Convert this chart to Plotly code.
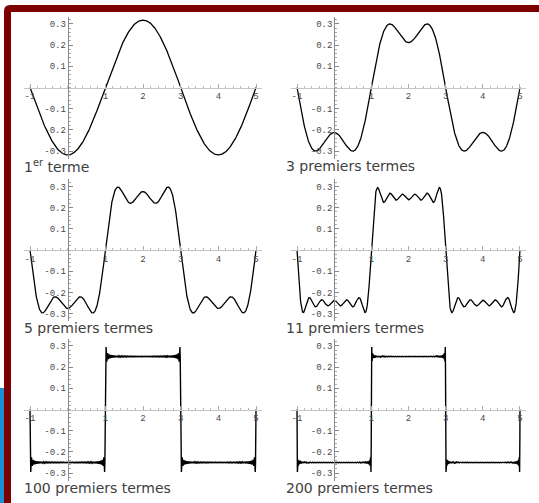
import numpy as np
import plotly.graph_objects as go

# Partial Fourier sums of a square wave (amplitude 0.25, period 4)
harmoniques = [1, 3, 5, 11, 100, 200]          # highest harmonic kept in each panel
legendes = ["1<sup>er</sup> terme", "3 premiers termes", "5 premiers termes",
            "11 premiers termes", "100 premiers termes", "200 premiers termes"]
amplitude = 0.25
periode = 4.0
x_debut, x_fin = -1.0, 5.0

x_ticks = [-1, 1, 2, 3, 4, 5]
x_ticktext = ["-1", "1", "2", "3", "4", "5"]
y_ticks = [-0.3, -0.2, -0.1, 0.1, 0.2, 0.3]
y_ticktext = ["-0.3", "-0.2", "-0.1", "0.1", "0.2", "0.3"]

W, H = 539, 503
X_RANGE = [-1.17, 5.17]
Y_RANGE = [-0.335, 0.335]

# panel boxes in pixels: (left, right, top, bottom)
col_x = [(23.6, 262.4), (290.7, 526.3)]
row_y = [(16.5, 158.5), (179.0, 321.0), (338.5, 480.5)]
caption_y = [166, 328, 488]
caption_x = [22, 284]


def somme_partielle(x, n_max):
    s = np.zeros_like(x)
    for n in range(1, n_max + 1, 2):
        k = (n - 1) // 2
        s += ((-1) ** k) * np.cos(n * 2 * np.pi * x / periode) / n
    return -(4 * amplitude / np.pi) * s


fig = go.Figure()
layout = dict(width=W, height=H, margin=dict(l=0, r=0, t=0, b=0),
              paper_bgcolor="white", plot_bgcolor="rgba(0,0,0,0)",
              showlegend=False, annotations=[], shapes=[])

tick_font = dict(family="Liberation Mono", size=9, color="#4a4a4a")

for i, n_max in enumerate(harmoniques):
    r, c = divmod(i, 2)
    left, right = col_x[c]
    top, bottom = row_y[r]
    idx = "" if i == 0 else str(i + 1)
    npts = 1200 if n_max < 50 else 12000
    xs = np.linspace(x_debut, x_fin, npts)
    ys = somme_partielle(xs, n_max)
    fig.add_trace(go.Scatter(x=xs, y=ys, mode="lines",
                             line=dict(color="black", width=1.3 if n_max < 50 else 1.4),
                             xaxis="x" + idx, yaxis="y" + idx, hoverinfo="skip"))

    dom_x = [left / W, right / W]
    dom_y = [1 - bottom / H, 1 - top / H]
    # where the data origin falls inside the panel (paper units)
    x0_paper = dom_x[0] + (0 - X_RANGE[0]) / (X_RANGE[1] - X_RANGE[0]) * (dom_x[1] - dom_x[0])
    y0_paper = dom_y[0] + (0 - Y_RANGE[0]) / (Y_RANGE[1] - Y_RANGE[0]) * (dom_y[1] - dom_y[0])

    layout["xaxis" + idx] = dict(
        domain=dom_x, range=X_RANGE, anchor="free", position=y0_paper,
        showline=True, linecolor="#c4c4c4", linewidth=1,
        tickmode="array", tickvals=x_ticks, ticktext=x_ticktext,
        ticks="inside", ticklen=4, tickcolor="#aaaaaa", tickwidth=1,
        minor=dict(tickvals=[round(v, 1) for v in np.arange(-1.0, 5.01, 0.2)],
                   ticks="inside", ticklen=2, tickcolor="#bbbbbb"),
        showgrid=False, zeroline=False, tickfont=tick_font, fixedrange=True)
    layout["yaxis" + idx] = dict(
        domain=dom_y, range=Y_RANGE, anchor="free", position=x0_paper,
        showline=True, linecolor="#8a8a8a", linewidth=1,
        tickmode="array", tickvals=y_ticks, ticktext=y_ticktext,
        ticks="inside", ticklen=4, tickcolor="#888888", tickwidth=1,
        minor=dict(tickvals=[round(v, 2) for v in np.arange(-0.32, 0.321, 0.02)],
                   ticks="inside", ticklen=2, tickcolor="#aaaaaa"),
        showgrid=False, zeroline=False, tickfont=tick_font, fixedrange=True)

    layout["annotations"].append(dict(
        text=legendes[i], xref="paper", yref="paper",
        x=caption_x[c] / W, y=1 - caption_y[r] / H, xanchor="left", yanchor="middle",
        showarrow=False, font=dict(family="DejaVu Sans", size=14, color="#404040")))

# page frame: dark red band on the top and left, blue strip bottom-left
red = "#7d0000"
layout["shapes"] += [
    dict(type="path", xref="paper", yref="paper", layer="above",
         path=(f"M {4/W} {1-503/H} L {4/W} {1-11/H} Q {4/W} {1-5/H} {10/W} {1-5/H} "
               f"L 1 {1-5/H} L 1 {1-12/H} L {11/W} {1-12/H} L {11/W} {1-503/H} Z"),
         fillcolor=red, line=dict(width=0)),
    dict(type="rect", xref="paper", yref="paper", layer="above",
         x0=0, x1=4 / W, y0=0, y1=1 - 388 / H,
         fillcolor="#1b8fd6", line=dict(width=0)),
]

fig.update_layout(**layout)
fig.write_html("out.html")
